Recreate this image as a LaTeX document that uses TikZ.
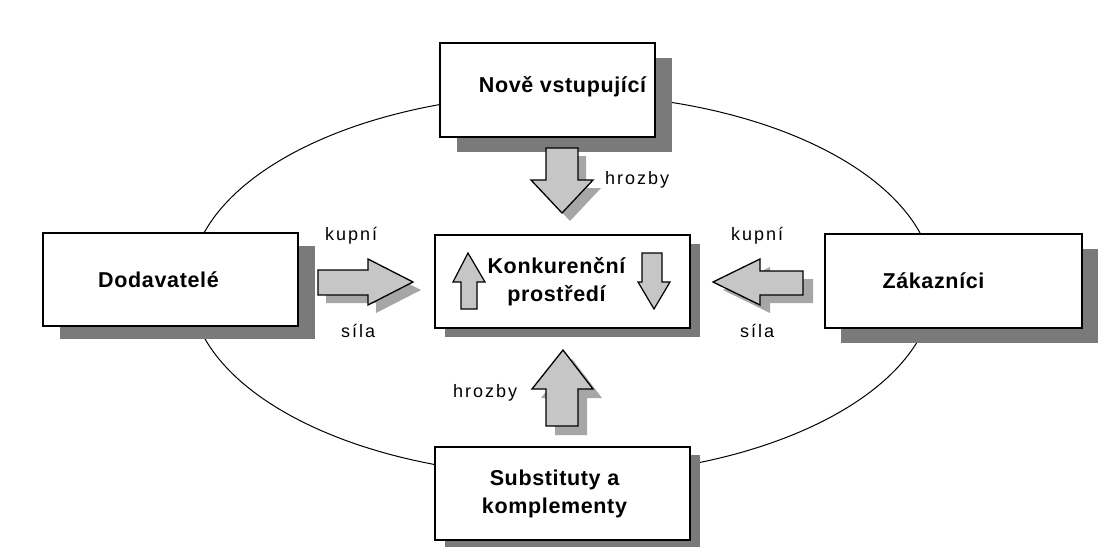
\documentclass[tikz,border=0pt]{standalone}
\usepackage{fontspec}
\setmainfont{Liberation Sans}
\newfontfamily\lblfont[LetterSpace=11]{Liberation Sans}
\newfontfamily\boxfont[LetterSpace=3]{Liberation Sans}
\usetikzlibrary{shadows}
\definecolor{boxshadow}{HTML}{7A7A7A}
\definecolor{arrowfill}{HTML}{C6C6C6}
\definecolor{arrowshadow}{HTML}{A6A6A6}
\newcommand\barrow[2]{%
  \fill[arrowshadow, shift={(#1)}] #2 -- cycle;
  \draw[arrowbody] #2 -- cycle;}
\begin{document}
\begin{tikzpicture}[x=1pt,y=-1pt,
  box/.style={draw=black, line width=1.6pt, fill=white, inner sep=0pt,
    align=center, font=\boxfont\bfseries\fontsize{21.5}{28}\selectfont},
  bshadow/.style 2 args={general shadow={fill=boxshadow, draw=none,
    shadow xshift=#1pt, shadow yshift=-#2pt}},
  arrowbody/.style={draw=black, line width=1.3pt, fill=arrowfill, line join=miter},
  smallarrow/.style={draw=black, line width=1.2pt, fill=arrowfill, line join=miter},
  lbl/.style={anchor=base west, inner sep=0pt, font=\lblfont\fontsize{18}{20}\selectfont}]
\useasboundingbox[fill=white] (0,0) rectangle (1118,546);
\draw[line width=1pt] (562,285) ellipse [x radius=372, y radius=191];

\node[box, bshadow={17}{15}, minimum width=215pt, minimum height=94pt] (nove) at (547.5,90) {\hspace*{30pt}\raisebox{0pt}[15pt][10pt]{Nově vstupující}};
\node[box, bshadow={17}{13}, minimum width=255pt, minimum height=93pt] (dod) at (170.5,279.5) {Dodavatelé\hspace*{24pt}};
\node[box, bshadow={16}{15}, minimum width=257pt, minimum height=94pt] (zak) at (953.5,281) {Zákazníci\hspace*{40pt}};
\node[box, bshadow={10}{9}, minimum width=255pt, minimum height=93pt] (konk) at (562.5,281.5) {Konkurenční\hspace*{12pt}\\prostředí\hspace*{12pt}};
\node[box, bshadow={10}{8}, minimum width=255pt, minimum height=93pt] (sub) at (562.5,493.5) {Substituty a\hspace*{16pt}\\komplementy\hspace*{16pt}};

\barrow{8,8}{(546,148) -- (578,148) -- (578,180) -- (593,180) -- (562,213) -- (531,180) -- (546,180)}
\barrow{9,9}{(563,350) -- (593,389) -- (578,389) -- (578,426) -- (546,426) -- (546,389) -- (532,389)}
\barrow{8,8}{(318,270) -- (368,270) -- (368,259) -- (413,282) -- (368,305) -- (368,295) -- (318,295)}
\barrow{10,8}{(713,282) -- (760,259) -- (760,271) -- (803,271) -- (803,295) -- (760,295) -- (760,305)}

\draw[smallarrow] (468,253) -- (485,282) -- (477,282) -- (477,309) -- (461,309) -- (461,282) -- (453,282) -- cycle;
\draw[smallarrow] (642,253) -- (662,253) -- (662,282) -- (670,282) -- (654,309) -- (638,282) -- (642,282) -- cycle;

\node[lbl] (hr1) at (605,184) {hrozby};
\node[lbl] (hr2) at (453,397) {hrozby};
\node[lbl] (kl) at (325,240) {kupní};
\node[lbl] (sl) at (341,337) {síla};
\node[lbl] (kr) at (731,240) {kupní};
\node[lbl] (sr) at (740,337) {síla};
\end{tikzpicture}
\end{document}
